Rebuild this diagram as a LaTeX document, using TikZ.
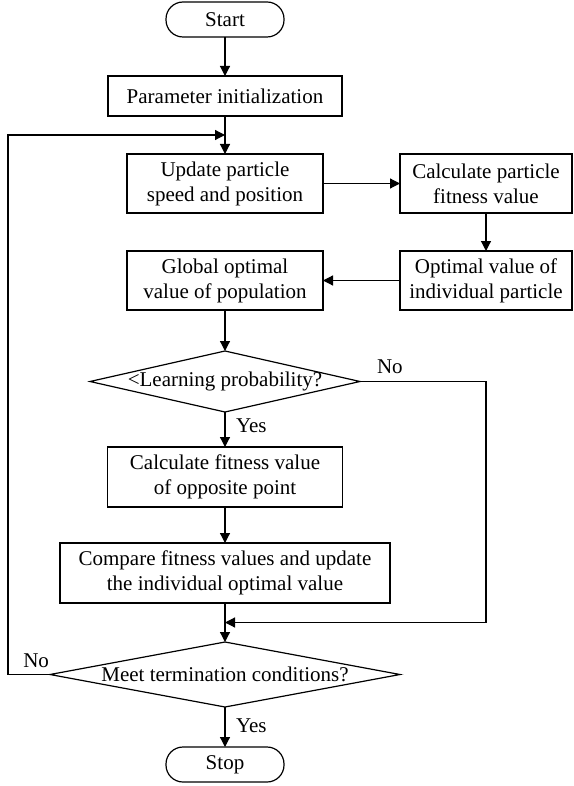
\documentclass[tikz,border=0pt]{standalone}
\usepackage{fontspec}
\setmainfont{Liberation Serif}
\usetikzlibrary{positioning,arrows.meta,shapes.geometric,calc}

\begin{document}
\begin{tikzpicture}[
  x=1pt, y=-1pt,
  font=\fontsize{21}{25}\selectfont,
  line width=1.2pt,
  node distance=38pt,
  every node/.style={outer sep=0pt},
  box/.style={draw, align=center, inner sep=2pt, minimum height=59pt},
  term/.style={draw, rounded corners=17pt, minimum width=118pt, minimum height=35pt, inner sep=0pt},
  decision/.style={draw, diamond, inner sep=0pt},
  arrow/.style={-{Triangle[length=10pt,width=10pt]}},
  lbl/.style={inner sep=1pt}
]
\useasboundingbox (0,0) rectangle (573,786);
\node[term] (start) at (225,19.5) {Start};
\node[box, minimum width=234pt, minimum height=40pt, below=39pt of start] (init) {Parameter initialization};
\node[box, minimum width=196pt, below=38pt of init] (upd) {Update particle\\speed and position};
\node[box, minimum width=172pt, right=77pt of upd] (fit) {Calculate particle\\fitness value};
\node[box, minimum width=196pt, below=38pt of upd] (glob) {Global optimal\\value of population};
\node[box, minimum width=172pt, right=77pt of glob] (pbest) {Optimal value of\\individual particle};
\node[decision, minimum width=270pt, minimum height=61pt, below=41pt of glob] (learn) {\makebox[0pt]{<Learning probability?}};
\node[box, minimum width=235pt, minimum height=60pt, below=35pt of learn] (oppo) {Calculate fitness value\\of opposite point};
\node[box, minimum width=330pt, minimum height=60pt, below=36pt of oppo] (comp) {Compare fitness values and update\\the individual optimal value};
\node[decision, minimum width=350pt, minimum height=65pt, below=39pt of comp] (stopchk) {\makebox[0pt]{Meet termination conditions?}};
\node[term, below=40pt of stopchk] (stop) {Stop};
% merge points on the main column
\coordinate (loopin) at ($(init.south)!0.5!(upd.north)$);
\coordinate (skipin) at ($(comp.south)!0.5!(stopchk.north)$);
\draw[arrow] (start) -- (init);
\draw[arrow] (init) -- (upd);
\draw[arrow] (upd) -- (fit);
\draw[arrow] (fit) -- (pbest);
\draw[arrow] (pbest) -- (glob);
\draw[arrow] (glob) -- (learn);
\draw[arrow] (learn) -- (oppo);
\draw[arrow] (oppo) -- (comp);
\draw[arrow] (comp) -- (stopchk);
\draw[arrow] (stopchk) -- (stop);
\draw[arrow] (learn.east) -- (learn.east -| pbest) |- (skipin);
\draw[arrow] (stopchk.west) -- ++(-42pt,0) |- (loopin);
\node[lbl, above right=7pt and 16pt of learn.east] (no1) {No};
\node[lbl, below right=6pt and 10pt of learn.south] (yes1) {Yes};
\node[lbl, above left=6pt and 0pt of stopchk.west] (no2) {No};
\node[lbl, below right=11pt and 10pt of stopchk.south] (yes2) {Yes};
\end{tikzpicture}
\end{document}
